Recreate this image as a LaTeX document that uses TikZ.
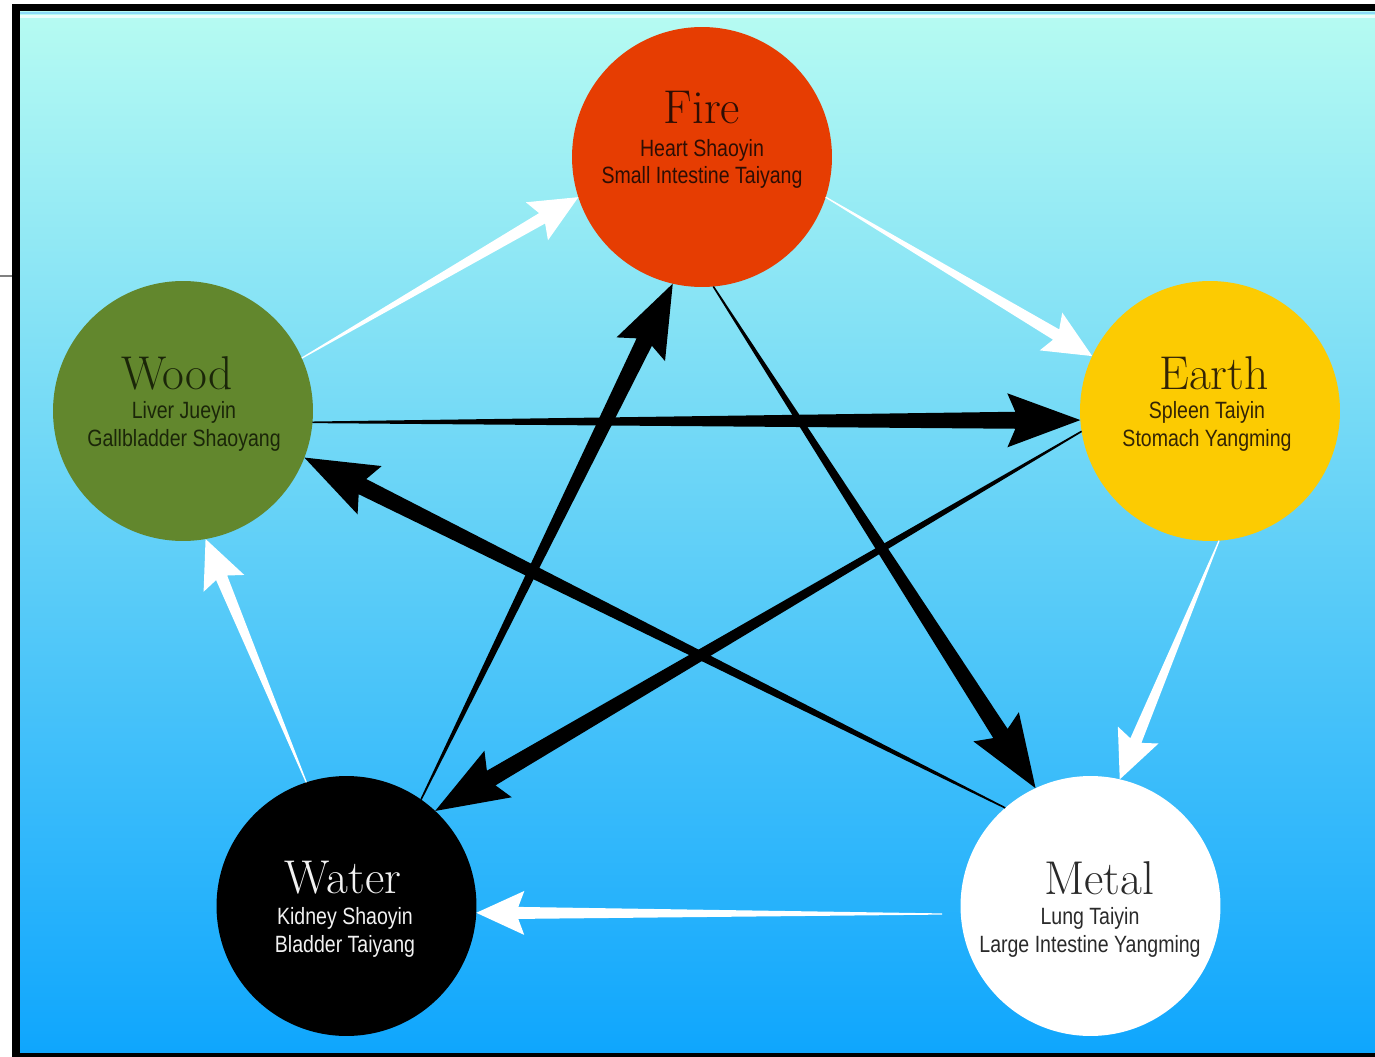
\documentclass[tikz,border=0pt]{standalone}
\usepackage{fontspec}
\usetikzlibrary{calc}
\newfontfamily\bodyfont[FakeStretch=0.83]{Liberation Sans}
\definecolor{bgtop}{HTML}{B6FBF2}
\definecolor{bgmid}{HTML}{62D0F7}
\definecolor{bgbot}{HTML}{0FA6FD}
\definecolor{firec}{HTML}{E63D02}
\definecolor{woodc}{HTML}{62872D}
\definecolor{earthc}{HTML}{FCCB02}
\definecolor{waterc}{HTML}{000000}
\definecolor{metalc}{HTML}{FFFFFF}
\definecolor{firetxt}{HTML}{2E0E04}
\definecolor{woodtxt}{HTML}{1B2609}
\definecolor{earthtxt}{HTML}{332405}
\definecolor{watertxt}{HTML}{F2F2F2}
\definecolor{metaltxt}{HTML}{2A2A2A}
\newcommand\taperarrow[8]{%
  \path ($(#3)!0.02cm*#6!(#2)$) coordinate (ta-c)
        ($(#3)!0.02cm*#6-0.02cm*#8!(#2)$) coordinate (ta-d);
  \fill[#1] ($(#2)!0.02cm*#4!90:(#3)$) -- ($(ta-d)!0.02cm*#5!90:(#3)$)
     -- ($(ta-c)!0.02cm*#7!90:(#3)$) -- (#3) -- ($(ta-c)!0.02cm*#7!-90:(#3)$)
     -- ($(ta-d)!0.02cm*#5!-90:(#3)$) -- ($(#2)!0.02cm*#4!-90:(#3)$) -- cycle;
}
\tikzset{
  elem/.style={circle, minimum size=5.2cm, inner sep=0pt, outer sep=0pt},
  title/.style={inner sep=0pt, font=\fontsize{27}{27}\selectfont},
  organ/.style={inner sep=0pt, font=\bodyfont\fontsize{13.4}{14}\selectfont},
}
\begin{document}
\begin{tikzpicture}[x=0.02cm, y=-0.02cm]
\useasboundingbox (0,0) rectangle (1375,1057);
% frame and background
\fill[black] (12,4) rectangle (1375,1057);
\shade[top color=bgtop, middle color=bgmid, bottom color=bgbot] (20,12) rectangle (1375,1052);
\fill[color=cyan!45!white] (20,12) rectangle (1375,14);
\fill[color=white!70!bgtop] (20,15.5) rectangle (1375,18);
\draw[gray, line width=0.6pt] (0,276) -- (12,276);
% elements
\node[elem, fill=firec] (fire) at (702,157) {};
\node[elem, fill=woodc] (wood) at (183,411) {};
\node[elem, fill=earthc] (earth) at (1210,411) {};
\node[elem, fill=waterc] (water) at (346.5,906) {};
\node[elem, fill=metalc] (metal) at (1090.5,906) {};
\coordinate (metalgap) at (942,914);
% generating cycle (white)
\taperarrow{white}{wood.24.9}{fire.198.2}{0.6}{6}{48}{22}{6}
\taperarrow{white}{fire.-18}{earth.155}{0.6}{6}{48}{22}{6}
\taperarrow{white}{earth.-86.6}{metal.77.7}{0.6}{6}{48}{22}{6}
\taperarrow{white}{metalgap}{water.-3.8}{0.6}{6}{48}{22}{6}
\taperarrow{white}{water.108.7}{wood.-80.5}{0.6}{6}{48}{22}{6}
% controlling cycle (black)
\taperarrow{black}{wood.-5.7}{earth.184}{0.8}{8.5}{73}{27}{8}
\taperarrow{black}{earth.189.3}{water.47.1}{0.8}{8.5}{73}{27}{8}
\taperarrow{black}{water.55.1}{fire.257.3}{0.8}{8.5}{73}{27}{8}
\taperarrow{black}{fire.-85}{metal.115.5}{0.8}{8.5}{73}{27}{8}
\taperarrow{black}{metal.131}{wood.-21.6}{0.8}{8.5}{73}{27}{8}
% texts
\node[title, text=firetxt] (firet) at (702,108) {Fire};
\node[organ, text=firetxt] (fire1) at (702,150) {Heart Shaoyin};
\node[organ, text=firetxt] (fire2) at (702,177) {Small Intestine Taiyang};
\node[title, text=woodtxt] (woodt) at (177,373) {Wood};
\node[organ, text=woodtxt] (wood1) at (184,412) {Liver Jueyin};
\node[organ, text=woodtxt] (wood2) at (184,440) {Gallbladder Shaoyang};
\node[title, text=earthtxt] (eartht) at (1214,373) {Earth};
\node[organ, text=earthtxt] (earth1) at (1207,412) {Spleen Taiyin};
\node[organ, text=earthtxt] (earth2) at (1207,440) {Stomach Yangming};
\node[title, text=watertxt] (watert) at (343,878) {Water};
\node[organ, text=watertxt] (water1) at (345,918) {Kidney Shaoyin};
\node[organ, text=watertxt] (water2) at (345,946) {Bladder Taiyang};
\node[title, text=metaltxt] (metalt) at (1099,878) {Metal};
\node[organ, text=metaltxt] (metal1) at (1090,918) {Lung Taiyin};
\node[organ, text=metaltxt] (metal2) at (1090,946) {Large Intestine Yangming};
\end{tikzpicture}
\end{document}
